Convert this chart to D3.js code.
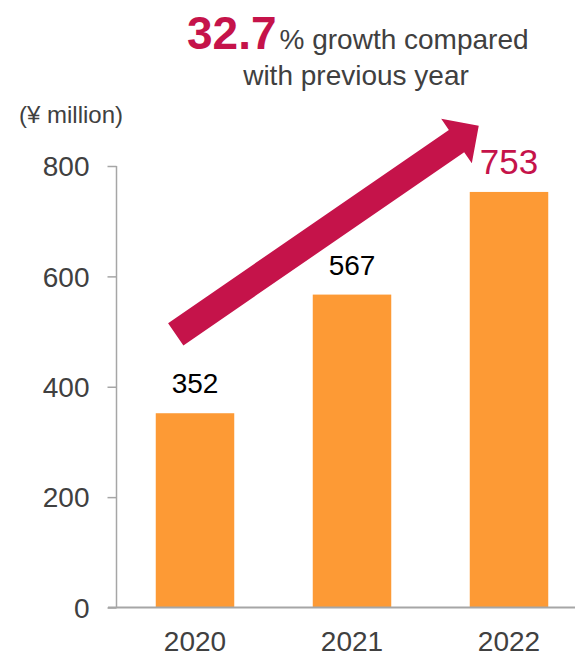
<!DOCTYPE html>
<html>
<head>
<meta charset="utf-8">
<script src="https://cdn.jsdelivr.net/npm/d3@7"></script>
<style>
  html, body { margin: 0; padding: 0; background: #fff; }
  svg { display: block; font-family: "Liberation Sans", Arial, sans-serif; }
</style>
</head>
<body>
<svg id="chart" width="575" height="654"></svg>
<script>
const years = ["2020", "2021", "2022"];
const revenue = [352, 567, 753];
const yTicks = [0, 200, 400, 600, 800];
const unitLabel = "(¥ million)";
const growthValue = "32.7";
const growthText1 = "% growth compared";
const growthText2 = "with previous year";
// arrow annotation anchors in data units: [category, offset within band, value]
const arrowFrom = ["2020", 20, 495];
const arrowTo = ["2022", 9, 873];

const ORANGE = "#FD9A35";
const CRIMSON = "#C5134A";
const TEXT = "#404040";
const AXIS = "#A6A6A6";

const svg = d3.select("#chart");

const x = d3.scaleBand().domain(years).range([116.5, 587.5]).paddingInner(0.5).paddingOuter(0.25);
const y = d3.scaleLinear().domain([0, 800]).range([607.5, 166]);

// Y axis
const yAxis = svg.append("g").attr("transform", "translate(116.5,0)")
  .call(d3.axisLeft(y).tickValues(yTicks).tickSize(9).tickPadding(18).tickFormat(d3.format("d")));
yAxis.select(".domain").remove();
yAxis.selectAll(".tick line").attr("stroke", AXIS).attr("stroke-width", 1.5);
yAxis.selectAll(".tick text").attr("fill", TEXT).attr("font-size", 28).attr("font-family", "Liberation Sans, Arial, sans-serif").attr("dy", "0.35em");
svg.append("line").attr("x1", 116.5).attr("x2", 116.5).attr("y1", y(800)).attr("y2", y(0))
  .attr("stroke", AXIS).attr("stroke-width", 1.5);

// Bars
svg.append("g").selectAll("rect").data(years).join("rect")
  .attr("x", d => x(d)).attr("width", x.bandwidth())
  .attr("y", (d, i) => y(revenue[i])).attr("height", (d, i) => y(0) - y(revenue[i]))
  .attr("fill", ORANGE);

// X axis
const xAxis = svg.append("g").attr("transform", `translate(0,${y(0)})`)
  .call(d3.axisBottom(x).tickSize(0).tickPadding(24));
xAxis.select(".domain").remove();
xAxis.selectAll(".tick text").attr("fill", TEXT).attr("font-size", 28).attr("font-family", "Liberation Sans, Arial, sans-serif");
svg.append("line").attr("x1", 108).attr("x2", 575).attr("y1", y(0)).attr("y2", y(0))
  .attr("stroke", AXIS).attr("stroke-width", 2);

// Value labels
svg.append("g").selectAll("text").data(years).join("text")
  .attr("x", d => x(d) + x.bandwidth() / 2)
  .attr("y", (d, i) => y(revenue[i]) - (i === 2 ? 18 : 20))
  .attr("text-anchor", "middle")
  .attr("font-size", (d, i) => i === 2 ? 35 : 28)
  .attr("fill", (d, i) => i === 2 ? CRIMSON : "#000")
  .text((d, i) => revenue[i]);

// Unit label
svg.append("text").attr("x", 19).attr("y", 123).attr("font-size", 24).attr("fill", TEXT).text(unitLabel);

// Arrow
const tail = [x(arrowFrom[0]) + arrowFrom[1], y(arrowFrom[2])];
const tip = [x(arrowTo[0]) + arrowTo[1], y(arrowTo[2])];
const dx = tip[0] - tail[0], dy = tip[1] - tail[1];
const len = Math.hypot(dx, dy);
const u = [dx / len, dy / len];
const n = [-u[1], u[0]];
const w = 13.5, hw = 27, hl = 27;
const base = [tip[0] - u[0] * hl, tip[1] - u[1] * hl];
const P = (p, k) => [p[0] + n[0] * k, p[1] + n[1] * k];
const pts = [P(tail, w), P(base, w), P(base, hw), tip, P(base, -hw), P(base, -w), P(tail, -w)];
svg.append("path").attr("d", d3.line()(pts) + "Z").attr("fill", CRIMSON);

// Headline
const head = svg.append("text").attr("x", 187).attr("y", 49).attr("fill", TEXT);
head.append("tspan").attr("font-size", 46).attr("font-weight", "bold").attr("fill", CRIMSON).text(growthValue);
head.append("tspan").attr("dx", 3).attr("font-size", 28).text(growthText1);
svg.append("text").attr("x", 356).attr("y", 85).attr("text-anchor", "middle").attr("font-size", 28).attr("fill", TEXT).text(growthText2);
</script>
</body>
</html>
